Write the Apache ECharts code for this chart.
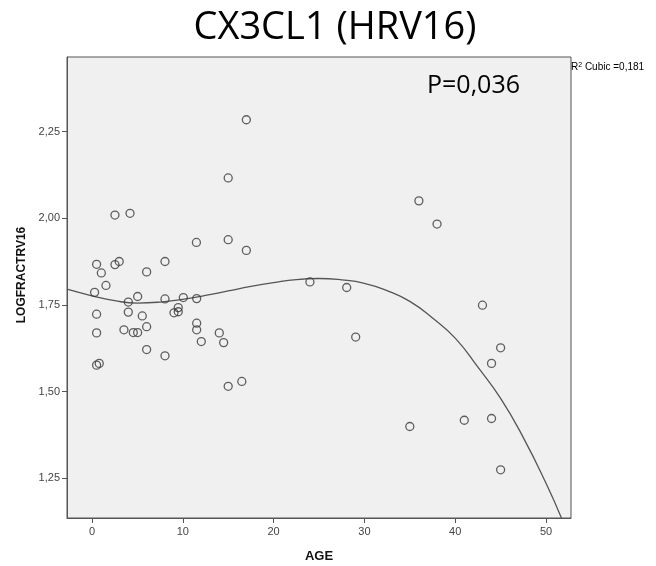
<!DOCTYPE html>
<html><head><meta charset="utf-8">
<script src="https://cdn.jsdelivr.net/npm/echarts@6/dist/echarts.min.js"></script>
<style>html,body{margin:0;padding:0;background:#fff}#c{width:656px;height:566px}</style>
</head><body><div id="c"></div>
<script>
const title = 'CX3CL1 (HRV16)';
const annotation = 'P=0,036';
const fitLabel = 'Cubic =0,181';
const yName = 'LOGFRACTRV16';
const xTicks = [0, 10, 20, 30, 40, 50];
const yTicks = [1.25, 1.5, 1.75, 2.0, 2.25];
const age = [17.0, 15.0, 2.53, 4.19, 11.5, 15.0, 17.0, 0.51, 2.53, 3.0, 1.03, 8.04, 6.02, 1.54, 0.29, 24.0, 36.0, 38.0, 28.05,
  0.51, 4.0, 5.03, 8.04, 10.06, 11.53, 4.0, 5.54, 9.03, 9.5, 9.5, 0.51, 3.52, 4.55, 5.03, 6.02, 11.53, 11.53, 14.02, 14.5, 12.04,
  6.02, 8.04, 0.51, 0.8, 15.0, 16.5, 29.04, 43.0, 45.0, 44.0, 35.0, 41.0, 44.0, 45.0];
const logfrac = [2.284, 2.116, 2.009, 2.014, 1.930, 1.938, 1.907, 1.867, 1.866, 1.875, 1.842, 1.875, 1.845, 1.806, 1.786, 1.816, 2.050, 1.983, 1.800,
  1.723, 1.758, 1.774, 1.767, 1.771, 1.768, 1.729, 1.718, 1.727, 1.742, 1.730, 1.669, 1.678, 1.670, 1.670, 1.687, 1.697, 1.678, 1.669, 1.641, 1.644,
  1.621, 1.603, 1.576, 1.581, 1.515, 1.529, 1.657, 1.749, 1.626, 1.581, 1.399, 1.417, 1.422, 1.274];
const fitX = [-2.75, 0, 2.5, 5, 7.5, 10, 12.5, 15, 17.5, 20, 22.5, 25, 27.5, 30, 32.5, 35, 37.5, 40, 42.5, 45, 47.5, 50, 51.7];
const fitY = [1.795, 1.776, 1.762, 1.755, 1.758, 1.766, 1.777, 1.790, 1.803, 1.814, 1.823, 1.826, 1.822, 1.812, 1.791, 1.760, 1.712, 1.654, 1.570, 1.480, 1.367, 1.235, 1.135];

const chart = echarts.init(document.getElementById('c'), null, {renderer: 'canvas'});
const fmt = v => v.toFixed(2).replace('.', ',');
chart.setOption({
  animation: false,
  backgroundColor: '#ffffff',
  title: {
    text: title, left: 330, top: 4, textAlign: 'center',
    textStyle: {fontFamily: 'Open Sans', fontSize: 38, fontWeight: 'normal', color: '#000'}
  },
  grid: {left: 67, top: 57, right: 85, bottom: 48, show: true, backgroundColor: '#f0f0f0', borderColor: '#555', borderWidth: 1,
    containLabel: false, outerBoundsMode: 'none'},
  xAxis: {
    type: 'value', min: -2.75, max: 52.75,
    name: 'AGE', nameLocation: 'middle', nameGap: 32,
    nameTextStyle: {fontFamily: 'Liberation Sans', fontWeight: 'bold', fontSize: 13, color: '#111'},
    axisLine: {show: true, onZero: false, lineStyle: {color: '#555', width: 1}},
    axisTick: {show: true, length: 5, customValues: xTicks, lineStyle: {color: '#555'}},
    axisLabel: {customValues: xTicks, fontFamily: 'Liberation Sans', fontSize: 11, color: '#444', margin: 8},
    splitLine: {show: false}
  },
  yAxis: {
    type: 'value', min: 1.135, max: 2.465,
    axisLine: {show: true, onZero: false, lineStyle: {color: '#555', width: 1}},
    axisTick: {show: true, length: 5, customValues: yTicks, lineStyle: {color: '#555'}},
    axisLabel: {customValues: yTicks, formatter: fmt, fontFamily: 'Liberation Sans', fontSize: 11, color: '#444', margin: 7},
    splitLine: {show: false}
  },
  graphic: [
    {type: 'text', x: 22, y: 275, rotation: Math.PI / 2,
      style: {text: yName, align: 'center', verticalAlign: 'middle', font: 'bold 12px "Liberation Sans"', fill: '#111'}},
    {type: 'text', left: 427, top: 73, style: {text: annotation, font: '25px "Open Sans"', fill: '#000'}},
    {type: 'text', left: 571, top: 62, style: {
      text: '{r|R}{s|2}{r| ' + fitLabel + '}',
      rich: {r: {fontFamily: 'Liberation Sans', fontSize: 10, color: '#333'},
             s: {fontFamily: 'Liberation Sans', fontSize: 7, verticalAlign: 'top', color: '#333', padding: [0,0,4,0]}}
    }}
  ],
  series: [
    {
      type: 'line', data: fitX.map((x, i) => [x, fitY[i]]), smooth: true, showSymbol: false,
      lineStyle: {color: '#555', width: 1.3}, clip: true, z: 2
    },
    {
      type: 'scatter', data: age.map((x, i) => [x, logfrac[i]]), symbol: 'circle', symbolSize: 8,
      itemStyle: {color: 'rgba(0,0,0,0)', borderColor: '#3a3a3a', borderWidth: 1.3}, z: 3
    }
  ]
});
</script></body></html>
